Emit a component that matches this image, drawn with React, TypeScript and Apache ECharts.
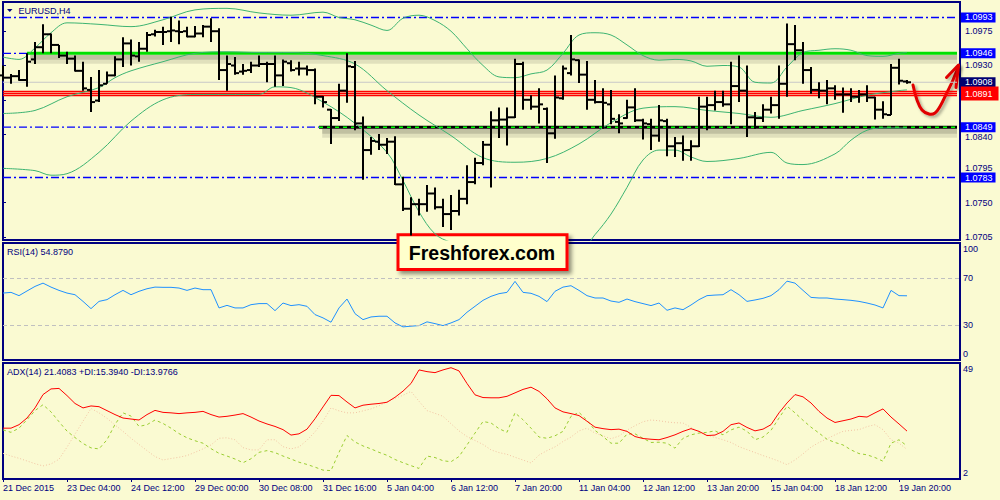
import { useEffect, useRef } from 'react';
import * as echarts from 'echarts';

// ---------- DATA ----------
const openP = [1.0917,1.0914,1.0916,1.0911,1.0938,1.0954,1.0971,1.0957,1.0943,1.0939,1.0923,1.0898,1.0884,1.0906,1.0917,1.0938,1.0959,1.0942,1.0952,1.0971,1.0974,1.0975,1.0975,1.0975,1.0968,1.0972,1.0981,1.0975,1.0924,1.0930,1.0922,1.0924,1.0930,1.0932,1.0932,1.0917,1.0933,1.0926,1.0926,1.0924,1.0889,1.0872,1.0861,1.0897,1.0928,1.0854,1.0819,1.0830,1.0826,1.0830,1.0774,1.0742,1.0748,1.0748,1.0762,1.0744,1.0735,1.0739,1.0755,1.0777,1.0802,1.0826,1.0858,1.0859,1.0862,1.0932,1.0885,1.0876,1.0873,1.0841,1.0887,1.0920,1.0937,1.0918,1.0885,1.0882,1.0879,1.0856,1.0861,1.0875,1.0858,1.0853,1.0838,1.0857,1.0824,1.0828,1.0819,1.0824,1.0876,1.0878,1.0882,1.0879,1.0903,1.0897,1.0862,1.0861,1.0872,1.0878,1.0906,1.0958,1.0950,1.0924,1.0898,1.0897,1.0900,1.0892,1.0892,1.0889,1.0892,1.0888,1.0872,1.0865,1.0927,1.0909];
const highP = [1.0930,1.0919,1.0924,1.0946,1.0961,1.0984,1.0972,1.0957,1.0948,1.0943,1.0935,1.0915,1.0924,1.0922,1.0942,1.0967,1.0964,1.0961,1.0974,1.0977,1.0981,1.0994,1.0989,1.0981,1.0982,1.0983,1.0992,1.0979,1.0943,1.0941,1.0932,1.0935,1.0943,1.0935,1.0943,1.0938,1.0937,1.0935,1.0930,1.0926,1.0890,1.0873,1.0906,1.0946,1.0936,1.0863,1.0836,1.0840,1.0835,1.0837,1.0784,1.0757,1.0755,1.0773,1.0770,1.0755,1.0760,1.0767,1.0799,1.0809,1.0831,1.0870,1.0875,1.0875,1.0939,1.0935,1.0891,1.0900,1.0875,1.0917,1.0930,1.0970,1.0938,1.0936,1.0911,1.0900,1.0898,1.0866,1.0885,1.0900,1.0860,1.0860,1.0878,1.0860,1.0836,1.0838,1.0832,1.0889,1.0889,1.0897,1.0897,1.0935,1.0943,1.0930,1.0869,1.0879,1.0889,1.0930,1.0985,1.0983,1.0961,1.0928,1.0908,1.0911,1.0904,1.0901,1.0900,1.0898,1.0904,1.0889,1.0883,1.0932,1.0939,1.0911];
const lowP = [1.0910,1.0906,1.0910,1.0902,1.0932,1.0946,1.0946,1.0940,1.0932,1.0922,1.0897,1.0869,1.0882,1.0906,1.0916,1.0928,1.0930,1.0935,1.0948,1.0968,1.0957,1.0961,1.0958,1.0967,1.0967,1.0967,1.0961,1.0911,1.0897,1.0918,1.0918,1.0920,1.0928,1.0908,1.0902,1.0903,1.0922,1.0917,1.0917,1.0879,1.0875,1.0827,1.0857,1.0881,1.0845,1.0780,1.0813,1.0819,1.0814,1.0773,1.0739,1.0707,1.0733,1.0738,1.0741,1.0718,1.0714,1.0733,1.0748,1.0774,1.0799,1.0770,1.0835,1.0825,1.0861,1.0872,1.0872,1.0854,1.0802,1.0834,1.0885,1.0917,1.0907,1.0872,1.0880,1.0847,1.0853,1.0841,1.0860,1.0856,1.0833,1.0819,1.0830,1.0811,1.0810,1.0805,1.0805,1.0823,1.0845,1.0871,1.0876,1.0853,1.0882,1.0836,1.0847,1.0856,1.0867,1.0860,1.0889,1.0937,1.0906,1.0893,1.0887,1.0879,1.0885,1.0868,1.0882,1.0881,1.0882,1.0859,1.0860,1.0865,1.0905,1.0906];
const closeP = [1.0914,1.0916,1.0911,1.0935,1.0954,1.0971,1.0957,1.0943,1.0939,1.0923,1.0900,1.0882,1.0904,1.0917,1.0938,1.0959,1.0943,1.0952,1.0970,1.0974,1.0974,1.0976,1.0974,1.0968,1.0972,1.0981,1.0975,1.0924,1.0932,1.0920,1.0923,1.0930,1.0932,1.0932,1.0917,1.0935,1.0924,1.0926,1.0924,1.0889,1.0882,1.0861,1.0897,1.0929,1.0854,1.0819,1.0831,1.0826,1.0830,1.0774,1.0742,1.0748,1.0748,1.0762,1.0744,1.0735,1.0739,1.0755,1.0777,1.0802,1.0826,1.0858,1.0859,1.0862,1.0932,1.0885,1.0876,1.0879,1.0841,1.0888,1.0926,1.0938,1.0918,1.0885,1.0882,1.0881,1.0860,1.0854,1.0875,1.0858,1.0854,1.0838,1.0858,1.0824,1.0828,1.0819,1.0824,1.0876,1.0878,1.0882,1.0879,1.0903,1.0897,1.0862,1.0861,1.0872,1.0878,1.0906,1.0958,1.0950,1.0924,1.0898,1.0897,1.0900,1.0892,1.0892,1.0889,1.0892,1.0888,1.0872,1.0866,1.0927,1.0910,1.0908];

const bbUpperIdx = [0,2,4,6,8,12,16,20,24,28,32,36,40,42,44,46,48,50,52,54,56,58,60,62,64,66,68,70,72,74,76,78,80,82,84,86,88,90,92,94,96,98,100,102,104,106,108,110,112,113];
const bbUpper = [1.0941,1.0938,1.0953,1.0973,1.0986,1.0984,1.0981,1.0990,1.1003,1.1005,1.0999,1.0996,1.1000,1.0993,1.0990,1.0983,1.0976,1.0992,1.0996,1.0989,1.0975,1.0952,1.0930,1.0915,1.0914,1.0919,1.0924,1.0946,1.0970,1.0973,1.0970,1.0957,1.0943,1.0937,1.0938,1.0936,1.0929,1.0930,1.0928,1.0908,1.0907,1.0928,1.0947,1.0950,1.0952,1.0950,1.0943,1.0942,1.0946,1.0947];
const bbMiddleIdx = [0,4,8,12,14,16,20,24,28,32,36,40,44,48,52,56,60,64,68,72,76,80,84,88,92,96,100,104,108,112,113];
const bbMiddle = [1.0867,1.0871,1.0889,1.0901,1.0914,1.0923,1.0935,1.0946,1.0948,1.0947,1.0947,1.0943,1.0932,1.0897,1.0865,1.0838,1.0809,1.0803,1.0808,1.0827,1.0855,1.0874,1.0876,1.0871,1.0867,1.0862,1.0871,1.0880,1.0891,1.0897,1.0898];
const bbLowerIdx = [0,4,6,8,12,16,20,24,28,32,34,36,40,44,48,50,52,54,56,60,64,68,72,74,76,78,80,82,84,86,88,92,96,98,100,104,106,108,110,112,113];
const bbLower = [1.0795,1.0792,1.0786,1.0788,1.0816,1.0857,1.0885,1.0892,1.0892,1.0892,1.0902,1.0901,1.0882,1.0854,1.0816,1.0779,1.0738,1.0709,1.0698,1.0688,1.0690,1.0692,1.0686,1.0708,1.0735,1.0770,1.0806,1.0819,1.0819,1.0810,1.0804,1.0808,1.0816,1.0802,1.0800,1.0814,1.0832,1.0845,1.0848,1.0848,1.0848];

const rsi = [57.2,57.8,55.0,59.0,62.9,65.7,62.3,59.5,57.2,55.8,50.1,43.9,50.1,51.6,55.8,59.5,55.8,58.7,60.9,62.3,62.1,62.1,61.5,59.5,61.5,60.1,60.1,44.5,46.7,44.5,44.5,47.3,48.2,48.2,42.2,48.7,46.5,47.3,45.9,38.8,36.0,32.3,44.5,52.1,39.6,34.5,36.8,37.4,37.4,31.7,28.3,28.9,29.4,32.6,31.1,29.4,31.7,34.5,40.8,45.9,51.0,54.4,56.7,57.8,67.2,57.8,57.0,54.4,49.9,58.7,62.3,63.5,59.5,55.0,53.0,53.0,50.4,49.3,52.1,49.9,48.2,46.5,48.7,42.5,44.5,43.0,47.0,51.6,55.0,55.5,55.8,60.1,55.8,50.1,51.3,52.7,55.0,60.1,67.4,65.7,59.5,53.5,53.0,53.0,52.1,51.6,51.0,50.1,48.7,47.0,44.5,59.5,55.0,54.88];
const adx = [22.6,22.6,24.0,26.7,30.8,36.2,38.5,38.7,35.8,32.6,30.8,31.6,31.3,29.7,28.1,26.7,26.3,25.9,28.1,29.8,29.0,28.8,28.5,28.8,29.0,29.4,28.1,27.1,27.4,27.9,28.5,27.1,25.5,24.3,23.3,22.0,19.8,20.3,22.2,26.4,31.2,35.9,35.8,33.2,30.8,31.9,32.3,32.6,33.1,35.1,37.6,40.7,46.2,45.5,45.1,46.2,47.1,45.8,40.7,36.1,35.0,34.9,34.9,35.5,36.9,38.3,39.2,37.5,34.5,30.8,29.2,28.5,27.7,25.4,23.0,22.4,22.0,22.2,21.3,19.2,18.4,18.1,17.9,18.8,19.9,21.3,22.4,21.3,19.6,19.8,21.3,24.0,24.7,22.9,21.5,22.2,24.0,28.8,32.8,36.2,35.3,32.8,29.4,26.7,24.9,25.6,26.3,27.4,27.1,28.8,30.4,27.1,24.3,21.41];
const plusDI = [21.9,20.9,22.6,26.0,29.7,32.1,29.2,25.2,21.4,18.8,16.4,14.6,14.2,17.9,24.1,28.8,27.5,23.3,24.0,25.9,24.5,22.6,20.4,18.7,17.5,16.5,14.3,12.4,11.3,10.1,8.6,10.2,12.8,13.5,12.7,11.3,10.1,8.8,7.9,6.8,5.6,5.4,12.8,19.6,17.0,15.4,14.2,12.8,11.6,9.9,8.6,7.4,6.3,11.3,10.7,9.4,9.0,11.1,15.8,20.6,25.3,24.7,22.4,20.9,28.8,26.0,22.6,19.0,18.5,19.5,21.3,27.4,29.0,25.8,21.7,19.2,16.5,16.5,20.2,20.3,18.5,16.8,16.9,16.5,14.5,18.5,19.9,20.6,20.9,21.5,19.9,21.9,23.0,21.4,17.9,19.0,21.7,26.7,31.5,28.8,25.8,23.0,20.6,18.1,16.8,15.8,13.8,12.3,11.8,10.7,9.2,16.5,17.9,15.39];
const minusDI = [12.4,11.3,10.4,9.3,8.2,7.3,8.1,10.0,14.9,20.2,25.4,30.6,28.8,26.6,23.9,21.3,18.5,16.0,13.5,11.1,9.7,10.3,10.8,11.5,12.8,14.2,15.8,18.5,18.7,17.9,14.7,13.8,13.8,17.9,17.9,15.1,14.2,15.0,17.7,21.1,25.4,30.8,29.6,28.8,28.8,29.6,30.4,31.7,33.2,34.7,35.9,37.5,33.5,29.7,28.6,27.4,24.4,21.5,19.2,17.6,16.0,13.8,12.7,12.0,10.8,9.7,8.5,11.7,13.5,15.0,17.2,19.0,21.5,22.6,20.6,19.5,18.3,19.4,21.8,23.6,25.2,25.9,25.6,25.1,24.8,24.7,22.9,21.1,19.8,18.8,17.9,16.8,15.1,13.9,12.7,11.5,10.4,9.2,7.8,9.7,12.2,14.9,16.8,18.3,19.9,21.3,21.7,22.0,23.2,24.0,22.0,17.9,16.5,13.98];

const timeTickIdx = [0, 8, 16, 24, 32, 40, 48, 56, 64, 72, 80, 88, 96, 104, 112];
const timeLabels = ['21 Dec 2015', '23 Dec 04:00', '24 Dec 12:00', '29 Dec 00:00', '30 Dec 08:00', '31 Dec 16:00', '5 Jan 04:00', '6 Jan 12:00', '7 Jan 20:00', '11 Jan 04:00', '12 Jan 12:00', '13 Jan 20:00', '15 Jan 04:00', '18 Jan 12:00', '19 Jan 20:00'];
const priceTicks = [1.0705, 1.0750, 1.0795, 1.0840, 1.0885, 1.0930, 1.0975];
const priceLabels = [1.0705, 1.0750, 1.0795, 1.0840, 1.0930, 1.0975]; // 1.0885 is hidden under the red box
const crowdedLabel = 1.0840; // sits just under the 1.0849 box
const rsiTicks = [0, 30, 70, 100];
const rsiLevels = [70, 30];
const adxTicks = [2, 49];

const topLevel = 1.0993;
const resistLevel = 1.0946;
const bidLevel = 1.0908;
const redLevels = [1.08959, 1.08932, 1.08906];
const redLabel = '1.0891';
const supportLevel = 1.0849;
const lowLevel = 1.0783;

const titleText = 'EURUSD,H4';
const rsiTitle = 'RSI(14) 54.8790';
const adxTitle = 'ADX(14) 21.4083 +DI:15.3940 -DI:13.9766';
const brandText = 'Freshforex.com';

// ---------- STYLE ----------
const BG = '#FAFAD2';
const NAVY = '#000080';
const FONT = '"Liberation Sans", Arial, sans-serif';
const X_MIN = 0;
const X_MAX = 119.625;
const Y_MIN = 1.070097;
const Y_MAX = 1.101334;
const LINE_END = 119.25;
const GREEN_START = 3;
const SUPPORT_START = 39.5;
const DASHDOT = [8, 3, 2, 3];
const PX = (Y_MAX - Y_MIN) / 238; // price per pixel, for the soft drop shadows

export default function App() {
  const ref = useRef<HTMLDivElement>(null);

  useEffect(() => {
    if (!ref.current) return;
    const chart = echarts.init(ref.current, null, { renderer: 'svg' });

    const ohlc = openP.map((o, i) => [i, o, highP[i], lowP[i], closeP[i]]);
    const pairs = (idx: number[], v: number[]) => idx.map((x, k) => [x, v[k]]);
    const series1 = (arr: number[]) => arr.map((v, i) => [i, v]);

    const lbl = (text: string, bg: string, pad: number[] = [1, 3, 0, 4]) => ({
      show: true, distance: 4, formatter: text, color: '#ffffff',
      backgroundColor: bg, padding: pad, fontSize: 9, lineHeight: 9, fontFamily: FONT,
    });
    const dd = { color: '#0000FF', width: 1.3, type: DASHDOT };

    const hLine = (x0: number, x1: number, y: number, lineStyle: any, label: any = null, z = 1) => ({
      type: 'line', xAxisIndex: 0, yAxisIndex: 0, silent: true, showSymbol: false, symbol: 'none', z,
      data: [[x0, y], [x1, y]],
      lineStyle, itemStyle: { color: lineStyle.color },
      endLabel: label || { show: false },
    });
    const softShadow = (x0: number, x1: number, y: number) => [
      hLine(x0 + 0.4, x1, y - 6 * PX, { color: 'rgba(0,0,0,0.10)', width: 9, type: 'solid' }, null, 0),
      hLine(x0 + 0.4, x1, y - 4 * PX, { color: 'rgba(0,0,0,0.14)', width: 5, type: 'solid' }, null, 0),
    ];
    const red = { color: '#FF0000', width: 1.4, type: 'solid' };

    const levelSeries = [
      ...softShadow(GREEN_START, LINE_END, resistLevel),
      ...softShadow(SUPPORT_START, LINE_END, supportLevel),
      hLine(X_MIN, LINE_END, bidLevel, { color: '#C8C8C8', width: 1, type: 'solid' }, lbl(bidLevel.toFixed(4), '#000070')),
      hLine(X_MIN, LINE_END, topLevel, dd, lbl(topLevel.toFixed(4), '#0000FF')),
      hLine(X_MIN, GREEN_START, resistLevel, dd),
      hLine(GREEN_START, LINE_END, resistLevel, { color: '#00E000', width: 3, type: 'solid' }, lbl(resistLevel.toFixed(4), '#0000FF')),
      hLine(X_MIN, LINE_END, redLevels[0], red),
      hLine(X_MIN, LINE_END, redLevels[2], red),
      hLine(X_MIN, LINE_END, redLevels[1], red, lbl(redLabel, '#FF0000', [3, 6, 2, 4])),
      hLine(X_MIN, SUPPORT_START, supportLevel, dd),
      hLine(SUPPORT_START, LINE_END, supportLevel, { color: '#000000', width: 3, type: 'solid' }, lbl(supportLevel.toFixed(4), '#0000FF')),
      hLine(SUPPORT_START, LINE_END, supportLevel, { color: '#00FF00', width: 1.5, type: [4, 4] }),
      hLine(X_MIN, LINE_END, lowLevel, dd, lbl(lowLevel.toFixed(4), '#0000FF')),
    ];

    const axisText = { color: NAVY, fontSize: 9, fontFamily: FONT };
    const gridBase = { left: 3, width: 957, show: true, borderColor: NAVY, borderWidth: 2, backgroundColor: 'transparent' };
    const hiddenX = (gi: number) => ({
      type: 'value', gridIndex: gi, min: X_MIN, max: X_MAX, show: false, splitLine: { show: false },
    });
    const edgeRich = {
      top: { padding: [12, 0, 0, 0], ...axisText },
      bot: { padding: [0, 0, 12, 0], ...axisText },
    };
    const edgeFormatter = (lo: number, hi: number) => (v: number) =>
      v === hi ? `{top|${v}}` : v === lo ? `{bot|${v}}` : String(v);

    const option: any = {
      animation: false,
      backgroundColor: BG,
      grid: [
        { ...gridBase, top: 2, height: 238 },
        { ...gridBase, top: 243, height: 117 },
        { ...gridBase, top: 363, height: 116 },
      ],
      xAxis: [
        hiddenX(0),
        hiddenX(1),
        {
          type: 'value', gridIndex: 2, min: X_MIN, max: X_MAX, position: 'bottom',
          axisLine: { show: false }, splitLine: { show: false },
          axisTick: { show: true, customValues: timeTickIdx, length: 3, lineStyle: { color: NAVY, width: 1 } },
          axisLabel: {
            show: true, customValues: timeTickIdx, align: 'left', margin: 4, ...axisText,
            formatter: (v: number) => timeLabels[timeTickIdx.indexOf(Math.round(v))] ?? '',
          },
        },
      ],
      yAxis: [
        {
          type: 'value', gridIndex: 0, position: 'right', min: Y_MIN, max: Y_MAX,
          splitLine: { show: false }, axisLine: { show: false },
          axisTick: { show: true, customValues: priceTicks, length: 3, lineStyle: { color: NAVY } },
          axisLabel: {
            customValues: priceLabels, margin: 5, ...axisText,
            formatter: (v: number) => (Math.abs(v - crowdedLabel) < 1e-6 ? `{low|${v.toFixed(4)}}` : v.toFixed(4)),
            rich: { low: { padding: [6, 0, 0, 0], ...axisText } },
          },
        },
        {
          type: 'value', gridIndex: 1, position: 'right', min: 0, max: 100,
          splitLine: { show: false }, axisLine: { show: false },
          axisTick: { show: true, customValues: rsiTicks, length: 3, lineStyle: { color: NAVY } },
          axisLabel: { customValues: rsiTicks, margin: 3, ...axisText, formatter: edgeFormatter(0, 100), rich: edgeRich },
        },
        {
          type: 'value', gridIndex: 2, position: 'right', min: 2, max: 49,
          splitLine: { show: false }, axisLine: { show: false },
          axisTick: { show: true, customValues: adxTicks, length: 3, lineStyle: { color: NAVY } },
          axisLabel: { customValues: adxTicks, margin: 3, ...axisText, formatter: edgeFormatter(2, 49), rich: edgeRich },
        },
      ],
      series: [
        ...levelSeries,
        ...[[bbUpperIdx, bbUpper], [bbMiddleIdx, bbMiddle], [bbLowerIdx, bbLower]].map(([idx, v]) => ({
          type: 'line', xAxisIndex: 0, yAxisIndex: 0, data: pairs(idx as number[], v as number[]),
          showSymbol: false, smooth: 0.35, z: 2, silent: true, clip: true,
          lineStyle: { color: '#3CB371', width: 1 }, itemStyle: { color: '#3CB371' },
        })),
        {
          type: 'custom', xAxisIndex: 0, yAxisIndex: 0, z: 5, silent: true,
          data: ohlc, encode: { x: 0, y: [1, 2, 3, 4] },
          renderItem: (_p: any, api: any) => {
            const x = api.value(0);
            const pO = api.coord([x, api.value(1)]);
            const pH = api.coord([x, api.value(2)]);
            const pL = api.coord([x, api.value(3)]);
            const pC = api.coord([x, api.value(4)]);
            const st = { stroke: '#000000', lineWidth: 2 };
            return {
              type: 'group',
              children: [
                { type: 'line', shape: { x1: pH[0], y1: pH[1], x2: pL[0], y2: pL[1] }, style: st },
                { type: 'line', shape: { x1: pO[0] - 4, y1: pO[1], x2: pO[0], y2: pO[1] }, style: st },
                { type: 'line', shape: { x1: pC[0], y1: pC[1], x2: pC[0] + 4, y2: pC[1] }, style: st },
              ],
            };
          },
        },
        {
          type: 'line', xAxisIndex: 1, yAxisIndex: 1, data: series1(rsi), showSymbol: false, silent: true,
          lineStyle: { color: '#1E90FF', width: 1 }, itemStyle: { color: '#1E90FF' }, z: 3,
          markLine: {
            symbol: ['none', 'none'], silent: true, label: { show: false },
            lineStyle: { color: '#C0C0C0', width: 1, type: [4, 3] },
            data: rsiLevels.map((v) => ({ yAxis: v })),
          },
        },
        {
          type: 'line', xAxisIndex: 2, yAxisIndex: 2, data: series1(minusDI), showSymbol: false, silent: true,
          lineStyle: { color: '#F2C4A4', width: 1, type: [1, 2] }, itemStyle: { color: '#F2C4A4' }, z: 2,
        },
        {
          type: 'line', xAxisIndex: 2, yAxisIndex: 2, data: series1(plusDI), showSymbol: false, silent: true,
          lineStyle: { color: '#9ACD32', width: 1, type: [3, 3] }, itemStyle: { color: '#9ACD32' }, z: 3,
        },
        {
          type: 'line', xAxisIndex: 2, yAxisIndex: 2, data: series1(adx), showSymbol: false, silent: true,
          lineStyle: { color: '#FF0000', width: 1 }, itemStyle: { color: '#FF0000' }, z: 4,
        },
      ],
      graphic: [
        { type: 'polygon', shape: { points: [[7, 9], [12.5, 9], [9.75, 12]] }, style: { fill: NAVY } },
        { type: 'text', x: 18.5, y: 10.5, style: { text: titleText, fill: NAVY, font: `9px ${FONT}`, verticalAlign: 'middle' } },
        { type: 'text', x: 7, y: 252, style: { text: rsiTitle, fill: NAVY, font: `9px ${FONT}`, verticalAlign: 'middle' } },
        { type: 'text', x: 7, y: 371.5, style: { text: adxTitle, fill: NAVY, font: `9px ${FONT}`, verticalAlign: 'middle' } },
        {
          type: 'polyline',
          shape: { points: [[913, 85], [917, 100], [922, 110], [929, 114], [935, 113], [940, 106.5], [946.5, 93.5], [953, 80], [958.5, 66]], smooth: 0.4 },
          style: { stroke: '#E00000', lineWidth: 3, lineCap: 'round', fill: 'none', shadowBlur: 3, shadowColor: 'rgba(0,0,0,0.35)', shadowOffsetX: 2, shadowOffsetY: 2 },
        },
        {
          type: 'polyline',
          shape: { points: [[946.5, 77.5], [958.5, 65], [956, 87.5]] },
          style: { stroke: '#E00000', lineWidth: 3, lineCap: 'round', lineJoin: 'round', fill: 'none', shadowBlur: 3, shadowColor: 'rgba(0,0,0,0.35)', shadowOffsetX: 2, shadowOffsetY: 2 },
        },
        {
          type: 'rect', shape: { x: 398, y: 234.8, width: 169, height: 34.7 },
          style: { fill: '#FFFFCC', stroke: '#FF0000', lineWidth: 3, shadowBlur: 4, shadowOffsetX: 3, shadowOffsetY: 3, shadowColor: 'rgba(0,0,0,0.45)' },
        },
        {
          type: 'text', x: 482, y: 253,
          style: { text: brandText, fill: '#000000', font: `bold 19.5px ${FONT}`, align: 'center', verticalAlign: 'middle' },
        },
      ],
    };

    chart.setOption(option);
    return () => chart.dispose();
  }, []);

  return (
    <div style={{ position: 'fixed', left: 0, top: 0, width: 1000, height: 500, background: BG }}>
      <div ref={ref} style={{ width: 1000, height: 500 }} />
    </div>
  );
}
